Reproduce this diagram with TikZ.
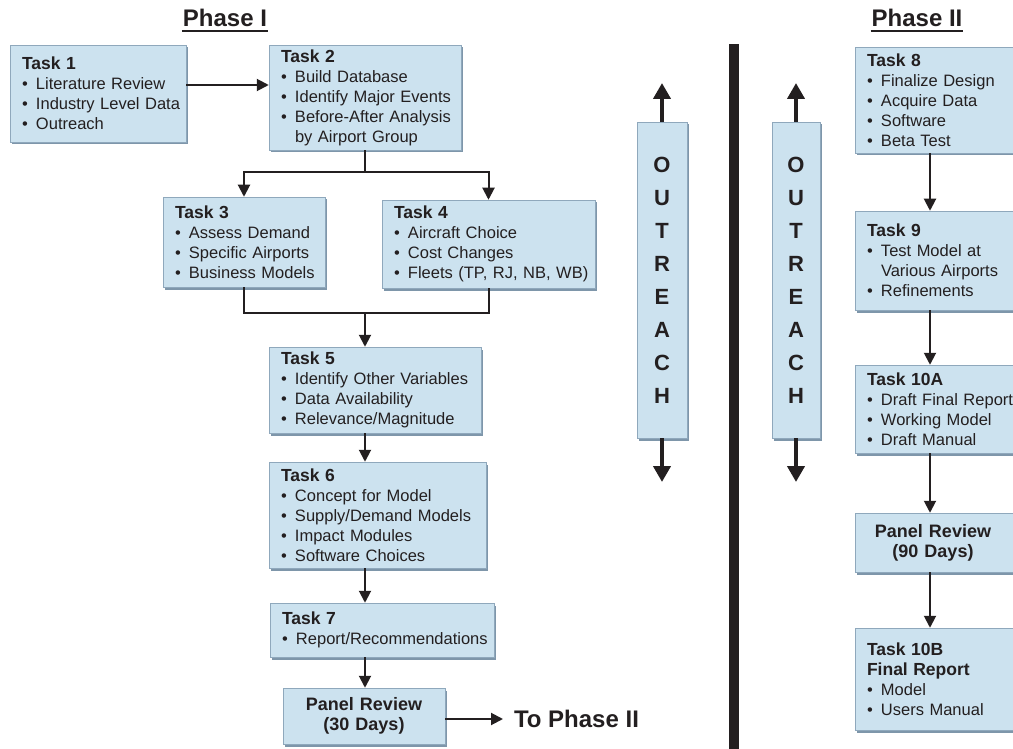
\documentclass[tikz,border=0pt]{standalone}
\usepackage{fontspec}
\setmainfont{Liberation Sans}
\usepackage{xcolor}
\usetikzlibrary{arrows.meta,shadows}
\definecolor{boxblue}{HTML}{CCE2EF}
\definecolor{boxline}{HTML}{8FA8BC}
\definecolor{boxshade}{HTML}{7E96AA}
\definecolor{ink}{HTML}{231F20}
\newcommand{\itm}[1]{\mbox{\makebox[14pt][l]{\textbullet}#1}}
\newcommand{\hd}[1]{\mbox{\fontsize{17.5}{20}\selectfont\bfseries #1}}

\begin{document}
\begin{tikzpicture}[x=1pt,y=-1pt,->,>={Triangle[width=12pt,length=12pt]},line width=2pt,color=ink]
\clip (0,0) rectangle (1013,749);
\tikzstyle{every node} = [rectangle, fill=boxblue, draw=boxline, line width=.5pt, drop shadow={fill=boxshade, opacity=1, shadow xshift=2pt, shadow yshift=-2.5pt}, inner xsep=12pt, inner ysep=0pt, align=left, text=ink, font=\fontsize{16.5}{20}\selectfont]
\node[minimum width=176pt, minimum height=97pt, text width=152pt] (1) at (98,93.5) {\hd{Task 1}\\\itm{Literature Review}\\\itm{Industry Level Data}\\\itm{Outreach}};
\node[minimum width=192pt, minimum height=105pt, text width=168pt] (2) at (365,97.5) {\hd{Task 2}\\\itm{Build Database}\\\itm{Identify Major Events}\\\itm{Before-After Analysis}\\\hspace*{14pt}by Airport Group};
\node[minimum width=162pt, minimum height=90pt, text width=138pt] (3) at (244,242) {\hd{Task 3}\\\itm{Assess Demand}\\\itm{Specific Airports}\\\itm{Business Models}};
\node[minimum width=213pt, minimum height=88pt, text width=189pt] (4) at (488.5,244) {\hd{Task 4}\\\itm{Aircraft Choice}\\\itm{Cost Changes}\\\itm{Fleets (TP, RJ, NB, WB)}};
\node[minimum width=212pt, minimum height=86pt, text width=188pt] (5) at (375,390) {\hd{Task 5}\\\itm{Identify Other Variables}\\\itm{Data Availability}\\\itm{Relevance/Magnitude}};
\node[minimum width=217pt, minimum height=106pt, text width=193pt] (6) at (377.5,515) {\hd{Task 6}\\\itm{Concept for Model}\\\itm{Supply/Demand Models}\\\itm{Impact Modules}\\\itm{Software Choices}};
\node[minimum width=224pt, minimum height=54pt, text width=200pt] (7) at (382,630) {\hd{Task 7}\\\itm{Report/Recommendations}};
\node[minimum width=162pt, minimum height=56pt, text width=138pt, align=center, font=\fontsize{18}{20}\selectfont\bfseries] (p1) at (364,716) {Panel Review\\(30 Days)};
\node[minimum width=170pt, minimum height=106pt, text width=146pt] (8) at (940,100) {\hd{Task 8}\\\itm{Finalize Design}\\\itm{Acquire Data}\\\itm{Software}\\\itm{Beta Test}};
\node[minimum width=170pt, minimum height=99pt, text width=146pt] (9) at (940,260.5) {\hd{Task 9}\\\itm{Test Model at}\\\hspace*{14pt}Various Airports\\\itm{Refinements}};
\node[minimum width=170pt, minimum height=88pt, text width=146pt] (10a) at (940,409) {\hd{Task 10A}\\\itm{Draft Final Report}\\\itm{Working Model}\\\itm{Draft Manual}};
\node[minimum width=170pt, minimum height=59pt, text width=146pt, align=center, font=\fontsize{18}{20}\selectfont\bfseries] (p2) at (940,542.5) {Panel Review\rule{14pt}{0pt}\\(90 Days)\rule{14pt}{0pt}};
\node[minimum width=170pt, minimum height=102pt, text width=146pt] (10b) at (940,679) {\hd{Task 10B}\\\hd{Final Report}\\\itm{Model}\\\itm{Users Manual}};
\node[minimum width=50pt, minimum height=316pt, inner xsep=0pt, align=center, font=\fontsize{22}{33}\selectfont\bfseries] (o1) at (662,280) {O\\U\\T\\R\\E\\A\\C\\H};
\node[minimum width=48pt, minimum height=316pt, inner xsep=0pt, align=center, font=\fontsize{22}{33}\selectfont\bfseries] (o2) at (796,280) {O\\U\\T\\R\\E\\A\\C\\H};
\tikzstyle{every node} = []
\node[inner sep=0pt, anchor=base, font=\fontsize{24}{28}\selectfont\bfseries] (ph1) at (225,27) {Phase I};
\node[inner sep=0pt, anchor=base, font=\fontsize{24}{28}\selectfont\bfseries] (ph2) at (917,27) {Phase II};
\draw[-, line width=2pt] ([yshift=-4pt]ph1.base west) -- ([yshift=-4pt]ph1.base east);
\draw[-, line width=2pt] ([yshift=-4pt]ph2.base west) -- ([yshift=-4pt]ph2.base east);
\node[anchor=west, inner xsep=10pt, inner ysep=0pt, font=\fontsize{24}{28}\selectfont\bfseries] (tp) at (503,719) {To Phase II};
\coordinate (a12) at (0,85);
\coordinate (s) at (365,172);
\coordinate (j) at (365,313);
\coordinate (c) at (930,0);
\coordinate (o1t) at (662,83);
\coordinate (o1b) at (662,482);
\coordinate (o2t) at (796,83);
\coordinate (o2b) at (796,482);
\draw (1.east |- a12) -- (2.west |- a12);
\draw[-] (2.south) -- (s);
\draw (s) -| (3.north);
\draw (s) -| (4.north);
\draw[-] (3.south) |- (j);
\draw[-] (4.south) |- (j);
\draw (j) -- (j |- 5.north);
\draw (5.south -| j) -- (6.north -| j);
\draw (6.south -| j) -- (7.north -| j);
\draw (7.south -| j) -- (p1.north -| j);
\draw (p1.east |- tp.west) -- (tp.west);
\draw (8.south -| c) -- (9.north -| c);
\draw (9.south -| c) -- (10a.north -| c);
\draw (10a.south -| c) -- (p2.north -| c);
\draw (p2.south -| c) -- (10b.north -| c);
\draw[line width=4pt, -{Triangle[width=17pt,length=16pt]}] (o1.north) -- (o1t);
\draw[line width=4pt, -{Triangle[width=17pt,length=16pt]}] (o1.south) -- (o1b);
\draw[line width=4pt, -{Triangle[width=17pt,length=16pt]}] (o2.north) -- (o2t);
\draw[line width=4pt, -{Triangle[width=17pt,length=16pt]}] (o2.south) -- (o2b);
\fill (729,44) rectangle (739,749);
\end{tikzpicture}
\end{document}
